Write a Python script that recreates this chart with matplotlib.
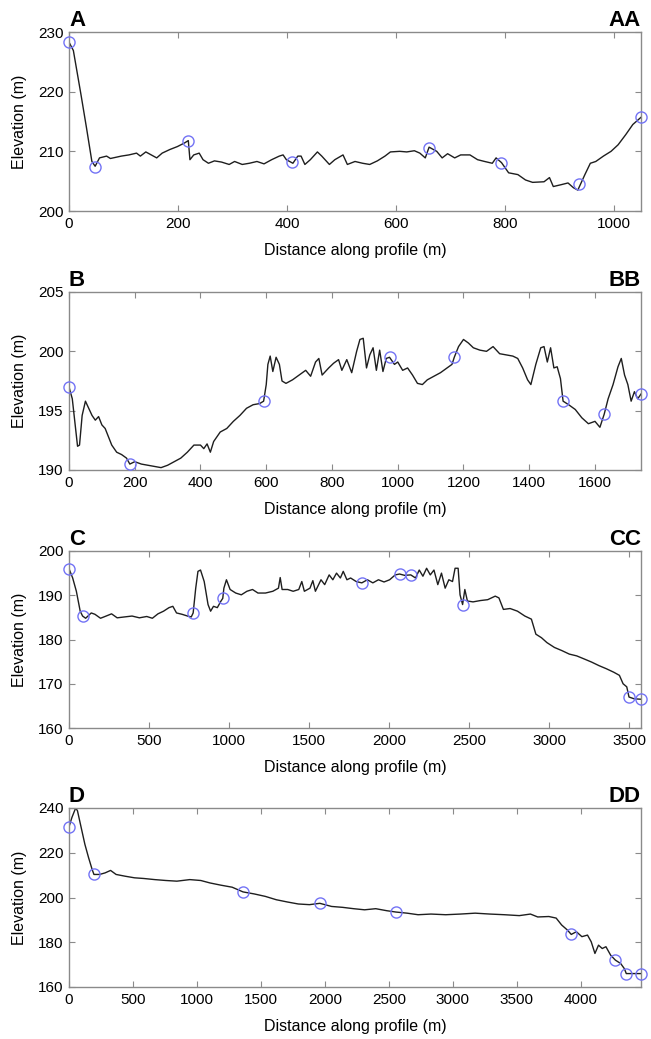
import matplotlib

matplotlib.use("Agg")
import matplotlib.pyplot as plt

plt.rcParams["font.family"] = ["Liberation Sans", "DejaVu Sans"]

# profile A - AA
a_dist = [0, 8, 22, 32, 42, 48, 56, 69, 76, 96, 110, 124, 131, 141, 151, 161, 171, 185,
          199, 212, 219, 222, 229, 239, 246, 256, 267, 280, 294, 304, 318, 331, 345, 358,
          372, 386, 393, 399, 411, 420, 426, 433, 443, 456, 464, 478, 488, 503, 511, 525,
          539, 552, 566, 580, 590, 607, 620, 634, 644, 654, 661, 675, 685, 695, 708, 719,
          736, 750, 763, 777, 784, 794, 807, 824, 838, 851, 872, 882, 889, 903, 916, 926,
          934, 940, 947, 957, 967, 981, 995, 1008, 1022, 1035, 1050]
a_elev = [228.3, 226.9, 219.5, 214.0, 208.3, 207.5, 208.9, 209.2, 208.8, 209.2, 209.4, 209.7,
          209.2, 209.9, 209.4, 208.9, 209.7, 210.3, 210.8, 211.4, 211.8, 208.6, 209.4, 209.7,
          208.6, 208.0, 208.4, 208.2, 207.8, 208.3, 207.8, 208.0, 208.3, 207.9, 208.6, 209.2,
          209.4, 208.6, 208.0, 209.2, 209.2, 207.8, 208.6, 209.9, 209.2, 207.8, 208.6, 209.4,
          207.8, 208.3, 208.0, 207.8, 208.4, 209.2, 209.9, 210.0, 209.9, 210.1, 209.7, 208.9,
          210.7, 210.0, 208.9, 209.6, 208.9, 209.4, 209.4, 208.6, 208.3, 208.0, 208.9, 208.1,
          206.4, 206.1, 205.2, 204.8, 204.9, 205.6, 204.1, 204.4, 204.7, 203.9, 203.5, 204.7,
          206.1, 208.0, 208.3, 209.2, 210.0, 211.1, 212.8, 214.5, 215.7]
a_mark_dist = [0, 47, 219, 410, 660, 793, 937, 1050]
a_mark_elev = [228.3, 207.3, 211.8, 208.2, 210.6, 208.1, 204.6, 215.7]

# profile B - BB
b_dist = [0, 10, 20, 26, 32, 40, 50, 60, 70, 80, 90, 100, 110, 120, 130, 145, 160, 175, 185,
          200, 220, 240, 260, 280, 300, 320, 340, 360, 380, 400, 410, 420, 430, 440, 460,
          480, 500, 520, 540, 560, 580, 592, 600, 605, 612, 620, 630, 640, 648, 660, 680,
          700, 720, 735, 750, 760, 770, 790, 805, 820, 830, 845, 860, 875, 885, 895, 905,
          915, 925, 935, 945, 955, 965, 975, 990, 1000, 1015, 1030, 1045, 1060, 1075, 1090,
          1110, 1130, 1150, 1165, 1172, 1185, 1200, 1215, 1230, 1250, 1270, 1290, 1310,
          1330, 1350, 1365, 1380, 1395, 1405, 1420, 1435, 1445, 1455, 1465, 1475, 1485,
          1495, 1503, 1520, 1540, 1560, 1580, 1600, 1615, 1628, 1640, 1655, 1670, 1680,
          1690, 1700, 1710, 1720, 1730, 1740]
b_elev = [197.0, 196.0, 193.5, 192.0, 192.1, 194.6, 195.8, 195.2, 194.6, 194.2, 194.5, 193.8,
          193.5, 192.8, 192.1, 191.5, 191.3, 191.0, 190.5, 190.7, 190.5, 190.4, 190.3, 190.2,
          190.4, 190.7, 191.0, 191.5, 192.1, 192.1, 191.8, 192.2, 191.5, 192.4, 193.2, 193.5,
          194.1, 194.6, 195.2, 195.5, 195.6, 195.8, 197.2, 198.9, 199.6, 198.3, 199.5, 198.9,
          197.5, 197.3, 197.6, 198.0, 198.4, 197.9, 199.1, 199.4, 198.0, 198.6, 199.0, 199.3,
          198.4, 199.3, 198.2, 200.0, 201.0, 201.1, 198.6, 199.7, 200.3, 198.4, 200.1, 198.3,
          199.4, 199.5, 198.9, 199.1, 198.4, 198.6, 198.0, 197.3, 197.2, 197.6, 197.9, 198.2,
          198.6, 198.9, 199.5, 200.4, 201.0, 200.7, 200.3, 200.1, 200.0, 200.4, 199.8, 199.7,
          199.6, 199.4, 198.6, 197.6, 197.2, 198.9, 200.3, 200.4, 199.1, 200.3, 198.6, 198.7,
          197.7, 195.8, 195.5, 195.1, 194.4, 193.9, 194.1, 193.6, 194.7, 196.0, 197.2, 198.7,
          199.4, 198.0, 197.2, 195.8, 196.6, 196.0, 196.4]
b_mark_dist = [0, 185, 592, 975, 1172, 1503, 1628, 1740]
b_mark_elev = [197.0, 190.5, 195.8, 199.5, 199.5, 195.8, 194.7, 196.4]

# profile C - CC
c_dist = [0, 23, 46, 70, 85, 104, 139, 162, 197, 232, 266, 301, 347, 394, 440, 486, 521, 556,
          591, 625, 649, 672, 706, 741, 764, 776, 792, 806, 822, 845, 869, 885, 903, 927,
          950, 961, 968, 984, 1007, 1042, 1077, 1112, 1147, 1181, 1228, 1274, 1309, 1320,
          1332, 1367, 1401, 1436, 1455, 1471, 1506, 1524, 1540, 1575, 1598, 1626, 1649,
          1672, 1696, 1714, 1737, 1760, 1795, 1830, 1865, 1899, 1934, 1969, 2004, 2039,
          2066, 2097, 2136, 2166, 2189, 2212, 2235, 2258, 2281, 2305, 2328, 2351, 2374,
          2397, 2413, 2432, 2444, 2460, 2474, 2490, 2525, 2571, 2617, 2664, 2687, 2715,
          2757, 2803, 2849, 2890, 2918, 2953, 2987, 3034, 3080, 3127, 3173, 3220, 3266,
          3312, 3358, 3405, 3440, 3463, 3486, 3500, 3532, 3575]
c_elev = [196.0, 193.9, 190.9, 186.4, 185.3, 184.8, 186.0, 185.7, 184.8, 185.3, 185.8, 184.9,
          185.1, 185.3, 184.9, 185.2, 184.8, 185.8, 186.4, 187.2, 187.5, 186.0, 185.7, 185.3,
          185.1, 186.0, 191.6, 195.4, 195.7, 193.1, 187.9, 186.4, 187.5, 187.2, 188.7, 189.3,
          191.6, 193.5, 191.3, 190.5, 190.1, 190.9, 191.3, 190.5, 190.5, 190.9, 191.6, 194.0,
          191.3, 191.3, 190.9, 191.3, 193.1, 190.9, 191.6, 193.3, 190.9, 193.5, 192.4, 194.6,
          193.5, 195.0, 193.9, 195.4, 193.5, 193.9, 193.1, 192.8, 193.5, 192.8, 193.5, 193.0,
          193.5, 194.6, 194.8, 194.5, 194.6, 193.9, 195.7, 194.3, 196.1, 194.6, 195.7, 192.4,
          195.0, 191.6, 193.5, 193.1, 196.1, 196.1, 190.1, 187.9, 191.3, 188.7, 188.5, 188.8,
          189.0, 189.8, 189.4, 186.8, 187.0, 186.4, 185.3, 184.6, 181.2, 180.4, 179.3, 178.2,
          177.5, 176.7, 176.3, 175.6, 174.9, 174.1, 173.4, 172.6, 171.9, 170.0, 169.3, 167.0,
          166.6, 166.5]
c_mark_dist = [0, 85, 776, 961, 1830, 2066, 2136, 2460, 3500, 3575]
c_mark_elev = [196.0, 185.3, 186.0, 189.3, 192.8, 194.8, 194.6, 187.9, 167.0, 166.5]

# profile D - DD
d_dist = [0, 23, 52, 66, 95, 124, 153, 181, 195, 239, 282, 325, 368, 440, 512, 584, 670, 757,
          843, 944, 1030, 1102, 1188, 1275, 1360, 1447, 1534, 1620, 1706, 1792, 1879, 1960,
          2052, 2138, 2224, 2310, 2397, 2483, 2555, 2642, 2728, 2829, 2944, 3059, 3174,
          3289, 3404, 3519, 3606, 3663, 3750, 3807, 3850, 3894, 3925, 3965, 4008, 4052,
          4081, 4110, 4138, 4167, 4196, 4233, 4270, 4311, 4340, 4355, 4470]
d_elev = [231.6, 235.8, 240.0, 238.8, 231.3, 223.8, 217.8, 212.5, 210.3, 210.3, 211.0, 212.1,
          210.3, 209.5, 208.8, 208.5, 208.0, 207.6, 207.3, 208.0, 207.6, 206.5, 205.5, 204.6,
          202.5, 201.6, 200.5, 199.0, 198.0, 197.1, 196.8, 197.4, 196.0, 195.6, 195.0, 194.5,
          195.0, 194.1, 193.5, 193.0, 192.3, 192.6, 192.3, 192.6, 193.0, 192.6, 192.3, 191.9,
          192.6, 191.3, 191.5, 190.8, 187.7, 185.5, 183.5, 184.7, 182.5, 183.2, 180.2, 175.0,
          178.7, 177.2, 178.0, 174.2, 172.0, 170.5, 168.2, 166.0, 166.0]
d_mark_dist = [0, 195, 1360, 1960, 2555, 3925, 4270, 4355, 4470]
d_mark_elev = [231.6, 210.3, 202.5, 197.4, 193.5, 183.5, 172.0, 166.0, 166.0]

panels = [
    ("A", "AA", a_dist, a_elev, a_mark_dist, a_mark_elev, (0, 1050), range(0, 1001, 200), (200, 230), range(200, 231, 10)),
    ("B", "BB", b_dist, b_elev, b_mark_dist, b_mark_elev, (0, 1740), range(0, 1601, 200), (190, 205), range(190, 206, 5)),
    ("C", "CC", c_dist, c_elev, c_mark_dist, c_mark_elev, (0, 3575), range(0, 3501, 500), (160, 200), range(160, 201, 10)),
    ("D", "DD", d_dist, d_elev, d_mark_dist, d_mark_elev, (0, 4470), range(0, 4001, 500), (160, 240), range(160, 241, 20)),
]

# axes rectangles in pixels: top, bottom
rows = [(32, 211), (292, 470), (551, 728), (808, 987)]


def draw_panel(ax, panel):
    start, end, dist, elev, mdist, melev, xlim, xticks, ylim, yticks = panel
    ax.plot(dist, elev, color="#1e1e1e", linewidth=1.0)
    ax.plot(mdist, melev, linestyle="none", marker="o", markersize=8,
            markerfacecolor="none", markeredgecolor="#7373f5", markeredgewidth=1.0,
            clip_on=False, zorder=5)
    ax.set_xlim(*xlim)
    ax.set_ylim(*ylim)
    ax.set_xticks(list(xticks))
    ax.set_yticks(list(yticks))
    for spine in ax.spines.values():
        spine.set_color("#8a8a8a")
        spine.set_linewidth(1.0)
    ax.tick_params(direction="in", length=4, width=0.8, color="#8a8a8a",
                   top=True, right=True, labelsize=11, pad=4)
    ax.set_xlabel("Distance along profile (m)", fontsize=11.5, labelpad=9)
    ax.set_ylabel("Elevation (m)", fontsize=11.5, labelpad=8)
    ax.text(0.0, 1.005, start, transform=ax.transAxes, fontsize=16,
            fontweight="bold", ha="left", va="bottom")
    ax.text(1.0, 1.005, end, transform=ax.transAxes, fontsize=16,
            fontweight="bold", ha="right", va="bottom")


def main():
    W, H = 651, 1039
    fig = plt.figure(figsize=(W / 100, H / 100), dpi=100)
    left, right = 69, 641
    for panel, (top, bottom) in zip(panels, rows):
        ax = fig.add_axes([left / W, 1 - bottom / H, (right - left) / W, (bottom - top) / H])
        draw_panel(ax, panel)
    fig.savefig("out.png", dpi=100)


if __name__ == "__main__":
    main()
